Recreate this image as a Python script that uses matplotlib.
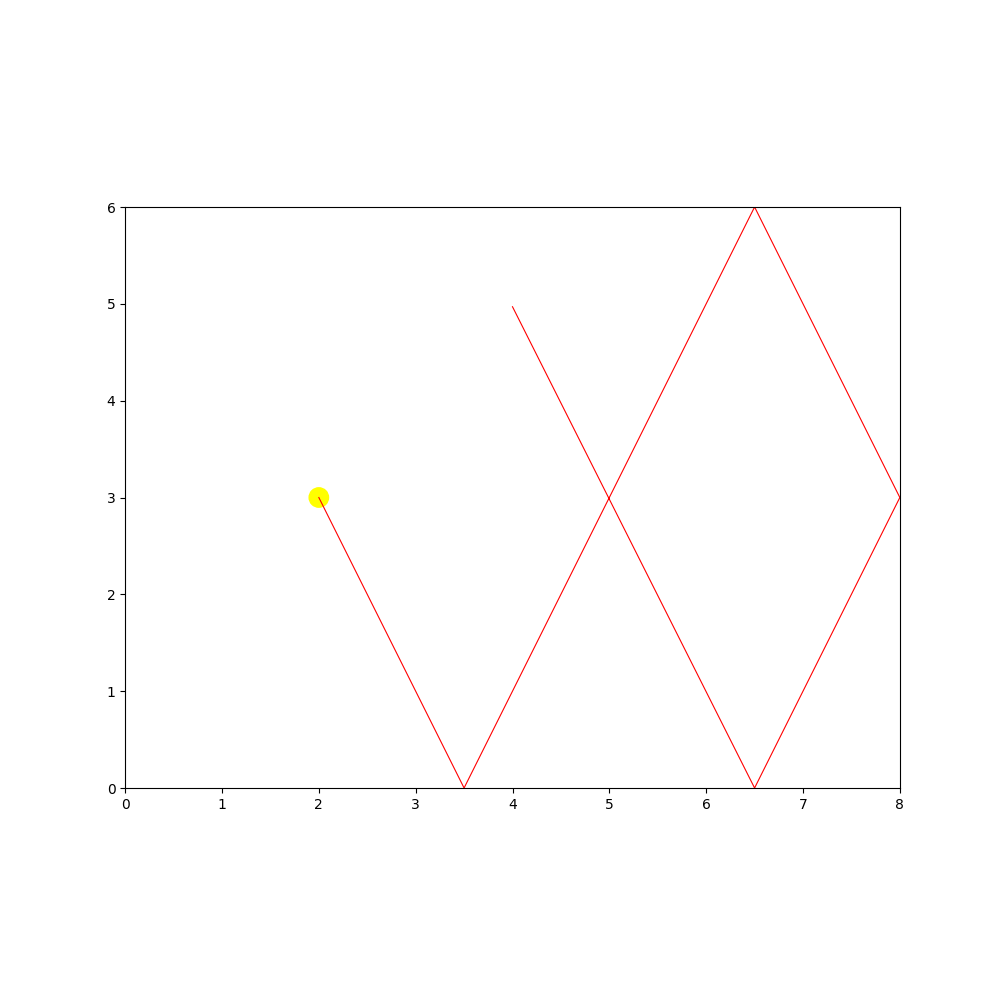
import matplotlib
matplotlib.use("Agg")
import matplotlib.pyplot as plt
from matplotlib.patches import Circle

# ball trajectory (bounces off floor, ceiling and right wall)
path_x = [2.0, 3.5, 6.5, 8.0, 6.5, 4.0]
path_y = [3.0, 0.0, 6.0, 3.0, 0.0, 4.97]
ball_x, ball_y = 2.0, 3.0
ball_r = 0.1

fig = plt.figure(figsize=(10, 10), dpi=100)
ax = fig.add_axes([0.125, 0.212, 0.775, 0.581])
ax.set_xlim(0, 8)
ax.set_ylim(0, 6)
ax.set_aspect('equal')

ax.add_patch(Circle((ball_x, ball_y), ball_r, color='yellow', zorder=1))
ax.plot(path_x, path_y, color='red', linewidth=0.8, zorder=2)

fig.savefig("out.png", dpi=100)
